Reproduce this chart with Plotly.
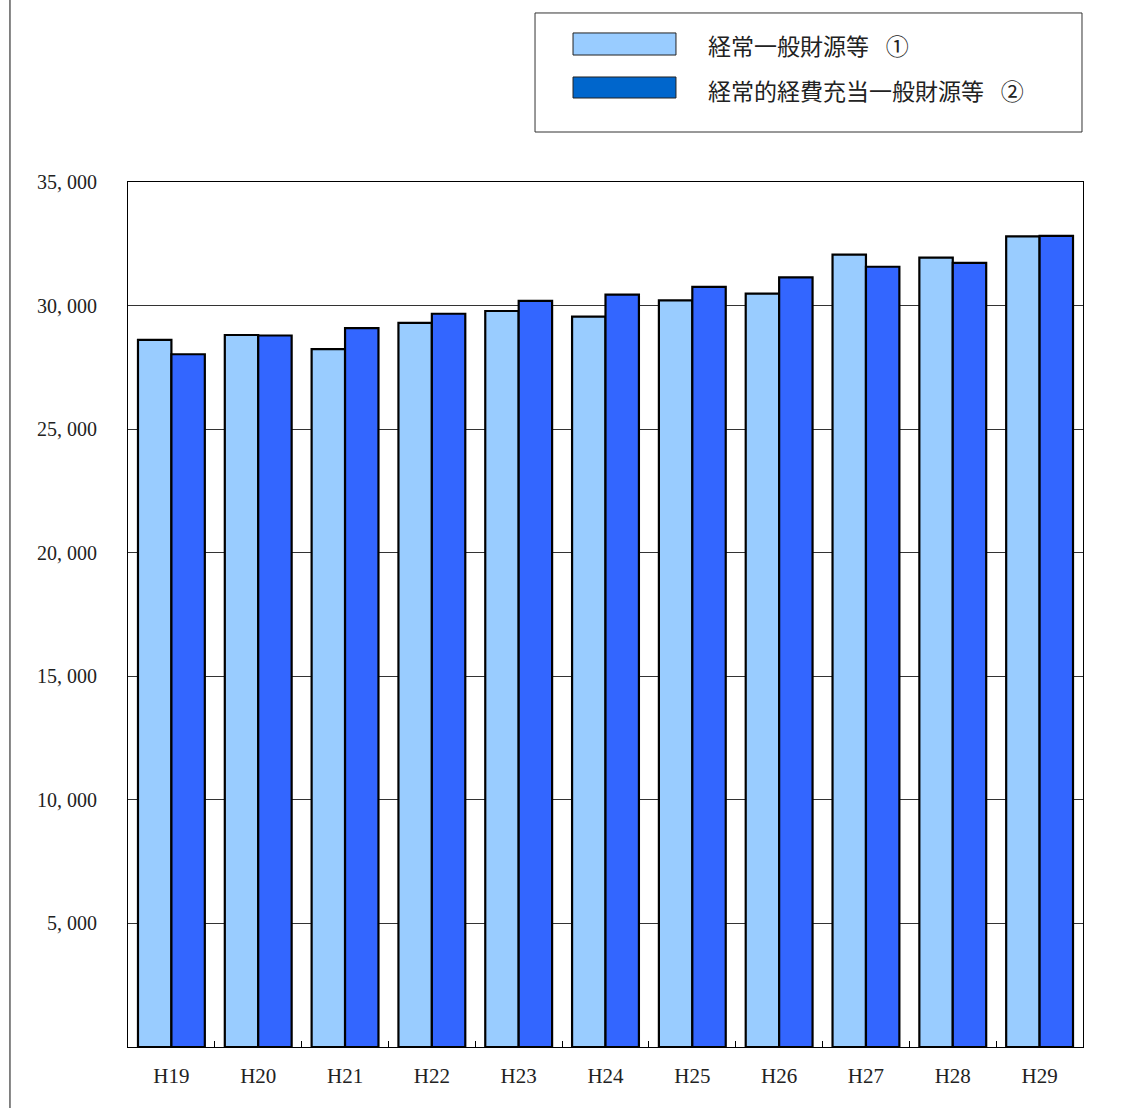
import plotly.graph_objects as go

# 年度別の一般財源等の推移（百万円）
years = ["H19", "H20", "H21", "H22", "H23", "H24", "H25", "H26", "H27", "H28", "H29"]
general_revenue = [28610, 28810, 28240, 29300, 29780, 29550, 30210, 30480, 32060, 31940, 32800]
recurring_alloc = [28030, 28790, 29090, 29670, 30190, 30440, 30760, 31140, 31570, 31730, 32820]

series_names = ["経常一般財源等\u2002 ①", "経常的経費充当一般財源等\u2002 ②"]
bar_colors = ["#99CCFF", "#3366FF"]
legend_colors = ["#99CCFF", "#0066CC"]

y_ticks = [5000, 10000, 15000, 20000, 25000, 30000, 35000]
y_tick_text = ["5, 000", "10, 000", "15, 000", "20, 000", "25, 000", "30, 000", "35, 000"]

NUM_FONT = "Liberation Serif, DejaVu Serif, serif"
CJK_FONT = "Noto Sans CJK JP, Noto Sans, sans-serif"

fig = go.Figure()
for name, vals, col in zip(series_names, [general_revenue, recurring_alloc], bar_colors):
    fig.add_trace(go.Bar(
        x=years, y=vals, name=name,
        marker=dict(color=col, line=dict(color="black", width=2.2)),
        showlegend=False,
    ))

fig.update_layout(
    width=1135, height=1108,
    margin=dict(l=128, r=52, t=182, b=61),
    paper_bgcolor="white", plot_bgcolor="white",
    barmode="group", bargap=0.23, bargroupgap=0,
    font=dict(family=NUM_FONT, size=20, color="#222"),
)

fig.update_xaxes(
    type="category", showline=True, linecolor="black", linewidth=1, mirror=True,
    ticks="inside", tickson="boundaries", ticklen=6, tickcolor="black",
    showgrid=False, tickfont=dict(family=NUM_FONT, size=21, color="#222"),
    ticklabelstandoff=10,
)
fig.update_yaxes(
    range=[0, 35000], tickvals=y_ticks, ticktext=y_tick_text,
    showline=True, linecolor="black", linewidth=1, mirror=True,
    showgrid=True, gridcolor="#333333", gridwidth=1, zeroline=False,
    ticks="", tickfont=dict(family=NUM_FONT, size=20, color="#222"),
    ticklabelstandoff=26,
)

# left frame line of the page
fig.add_shape(type="line", xref="paper", yref="paper",
              x0=-0.1236, x1=-0.1236, y0=-0.08, y1=1.22,
              line=dict(color="#444", width=1.3))

# legend box drawn manually
fig.add_shape(type="rect", xref="paper", yref="paper",
              x0=0.4262, x1=0.99895, y0=1.0578, y1=1.1954,
              line=dict(color="#333", width=1), fillcolor="white")
swatch_y = [(1.1468, 1.1723), (1.0971, 1.1214)]
text_y = [1.1584, 1.1064]
for name, col, (y0, y1), ty in zip(series_names, legend_colors, swatch_y, text_y):
    fig.add_shape(type="rect", xref="paper", yref="paper",
                  x0=0.466, x1=0.5738, y0=y0, y1=y1,
                  line=dict(color="#222", width=1), fillcolor=col)
    fig.add_annotation(xref="paper", yref="paper", x=0.6052, y=ty,
                       text=name, showarrow=False, xanchor="left", yanchor="middle",
                       font=dict(family=CJK_FONT, size=23, color="#222"))

fig.write_html("out.html")
